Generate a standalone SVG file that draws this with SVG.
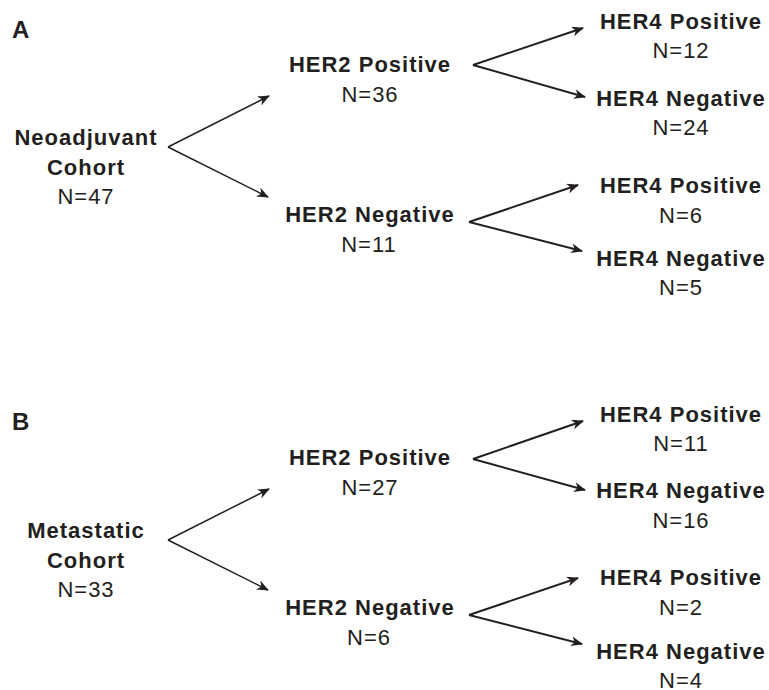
<svg xmlns="http://www.w3.org/2000/svg" width="769" height="690" viewBox="0 0 769 690">
<style>
text{font-family:"Liberation Sans",Arial,sans-serif;fill:#231f20;text-anchor:middle;font-size:22px;letter-spacing:1px}
.b{font-weight:bold}
.lab{font-weight:bold;font-size:24px;text-anchor:start;letter-spacing:0}
.c line{stroke:#231f20;stroke-width:1.5;marker-end:url(#ah)}
.c .t line{stroke-width:2}
</style>
<defs>
<marker id="ah" viewBox="0 0 12 10" refX="11" refY="5" markerWidth="12" markerHeight="10" markerUnits="userSpaceOnUse" orient="auto">
<path d="M0,0 L12,5 L0,10 L3.5,5 z" fill="#231f20"/>
</marker>
</defs>
<rect width="769" height="690" fill="#fff"/>
<g id="panelA">
<text class="lab" x="12" y="38">A</text>
<g id="a-root"><text class="b" x="86" y="145">Neoadjuvant</text><text class="b" x="86" y="175">Cohort</text><text x="86" y="204">N=47</text></g>
<g id="a-her2p"><text class="b" x="370" y="72">HER2 Positive</text><text x="370" y="102">N=36</text></g>
<g id="a-her2n"><text class="b" x="370" y="222">HER2 Negative</text><text x="369" y="252">N=11</text></g>
<g id="a-pp"><text class="b" x="681" y="29">HER4 Positive</text><text x="681" y="58">N=12</text></g>
<g id="a-pn"><text class="b" x="681" y="106">HER4 Negative</text><text x="681" y="135">N=24</text></g>
<g id="a-np"><text class="b" x="681" y="193">HER4 Positive</text><text x="681" y="223">N=6</text></g>
<g id="a-nn"><text class="b" x="681" y="266">HER4 Negative</text><text x="681" y="295">N=5</text></g>
</g>
<g id="panelB">
<text class="lab" x="12" y="430">B</text>
<g id="b-root"><text class="b" x="86" y="538">Metastatic</text><text class="b" x="86" y="568">Cohort</text><text x="86" y="597">N=33</text></g>
<g id="b-her2p"><text class="b" x="370" y="465">HER2 Positive</text><text x="370" y="495">N=27</text></g>
<g id="b-her2n"><text class="b" x="370" y="615">HER2 Negative</text><text x="369" y="645">N=6</text></g>
<g id="b-pp"><text class="b" x="681" y="422">HER4 Positive</text><text x="681" y="451">N=11</text></g>
<g id="b-pn"><text class="b" x="681" y="498">HER4 Negative</text><text x="681" y="528">N=16</text></g>
<g id="b-np"><text class="b" x="681" y="585">HER4 Positive</text><text x="681" y="615">N=2</text></g>
<g id="b-nn"><text class="b" x="681" y="659">HER4 Negative</text><text x="681" y="688">N=4</text></g>
</g>
<g id="connectors" class="c">
<line x1="168" y1="147" x2="269" y2="96"/>
<line x1="168" y1="147" x2="268" y2="197"/>
<g class="t">
<line x1="473" y1="65" x2="583" y2="28"/>
<line x1="473" y1="65" x2="585" y2="97"/>
<line x1="469" y1="222" x2="578" y2="185"/>
<line x1="469" y1="222" x2="582" y2="251"/>
</g>
<line x1="168" y1="540" x2="269" y2="489"/>
<line x1="168" y1="540" x2="268" y2="590"/>
<g class="t">
<line x1="473" y1="459" x2="583" y2="421"/>
<line x1="473" y1="459" x2="585" y2="490"/>
<line x1="469" y1="615" x2="578" y2="578"/>
<line x1="469" y1="615" x2="582" y2="644"/>
</g>
</g>
</svg>
